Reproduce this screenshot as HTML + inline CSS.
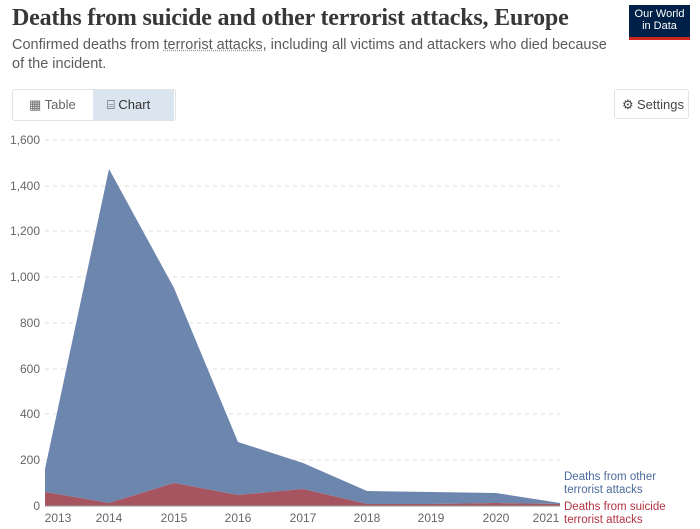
<!DOCTYPE html>
<html><head><meta charset="utf-8"><style>
body{margin:0;width:700px;height:529px;background:#fff;font-family:"Liberation Sans",sans-serif;overflow:hidden;position:relative}
.t{position:absolute;left:12px;top:5px;font-family:"Liberation Serif",serif;font-size:24px;font-weight:bold;color:#383838;letter-spacing:-0.2px}
.s{position:absolute;left:12px;top:36px;font-size:14.5px;color:#5b5b5b;line-height:19px;width:600px}
.s u{text-decoration:underline dotted #999}
.logo{position:absolute;left:629px;top:5px;width:61px;height:35px;background:#002147;border-bottom:3px solid #ce261e;color:#fff;font-size:11px;text-align:center;line-height:12px;padding-top:3px;box-sizing:border-box}
.tabs{position:absolute;left:12px;top:89px;width:162px;height:30px;border:1px solid #e2e2e2;border-radius:3px}
.tab{position:absolute;top:0;height:30px;line-height:30px;font-size:13px;color:#666}
.set{position:absolute;left:614px;top:89px;width:75px;height:30px;border:1px solid #e2e2e2;border-radius:3px;font-size:13px;line-height:30px;color:#444;box-sizing:border-box;padding-left:22px}
</style></head><body>
<div class="t">Deaths from suicide and other terrorist attacks, Europe</div>
<div class="s">Confirmed deaths from <u>terrorist attacks</u>, including all victims and attackers who died because of the incident.</div>
<div class="logo">Our World<br>in Data</div>
<div class="tabs"><div class="tab" style="left:16px">▦ Table</div><div class="tab" style="left:80px;width:81px;background:#dbe5f0;color:#333;padding-left:14px;box-sizing:border-box">⌸ Chart</div></div>
<div class="set"><span style="position:absolute;left:7px">⚙</span>Settings</div>
<svg width="700" height="529" style="position:absolute;left:0;top:0" font-family="Liberation Sans" font-size="12">
<g stroke="#ddd" stroke-dasharray="4,4">
<line x1="45" x2="560" y1="140" y2="140"/><line x1="45" x2="560" y1="186" y2="186"/><line x1="45" x2="560" y1="231" y2="231"/><line x1="45" x2="560" y1="277" y2="277"/><line x1="45" x2="560" y1="323" y2="323"/><line x1="45" x2="560" y1="369" y2="369"/><line x1="45" x2="560" y1="414" y2="414"/><line x1="45" x2="560" y1="460" y2="460"/>
</g>
<g fill="#666" text-anchor="end">
<text x="40" y="144">1,600</text><text x="40" y="190">1,400</text><text x="40" y="235">1,200</text><text x="40" y="281">1,000</text><text x="40" y="327">800</text><text x="40" y="373">600</text><text x="40" y="418">400</text><text x="40" y="464">200</text><text x="40" y="510">0</text>
</g>
<polygon fill="#6d86ad" points="45,469 109,169 174,288 238,442 303,463 367,491 431,492 496,493 560,503 560,504 496,503 431,504 367,504 303,489 238,495 174,483 109,503 45,492"/>
<polygon fill="#a6545f" points="45,492 109,503 174,483 238,495 303,489 367,504 431,504 496,503 560,504 560,506 45,506"/>
<line x1="45" x2="560" y1="506" y2="506" stroke="#999"/>
<g fill="#666" text-anchor="middle">
<text x="58" y="522">2013</text><text x="109" y="522">2014</text><text x="174" y="522">2015</text><text x="238" y="522">2016</text><text x="303" y="522">2017</text><text x="367" y="522">2018</text><text x="431" y="522">2019</text><text x="496" y="522">2020</text><text x="546" y="522">2021</text>
</g>
<g font-size="11.5">
<text x="564" y="480" fill="#4c6a9c">Deaths from other</text><text x="564" y="493" fill="#4c6a9c">terrorist attacks</text>
<text x="564" y="510" fill="#b13442">Deaths from suicide</text><text x="564" y="523" fill="#b13442">terrorist attacks</text>
</g>
</svg>
</body></html>
